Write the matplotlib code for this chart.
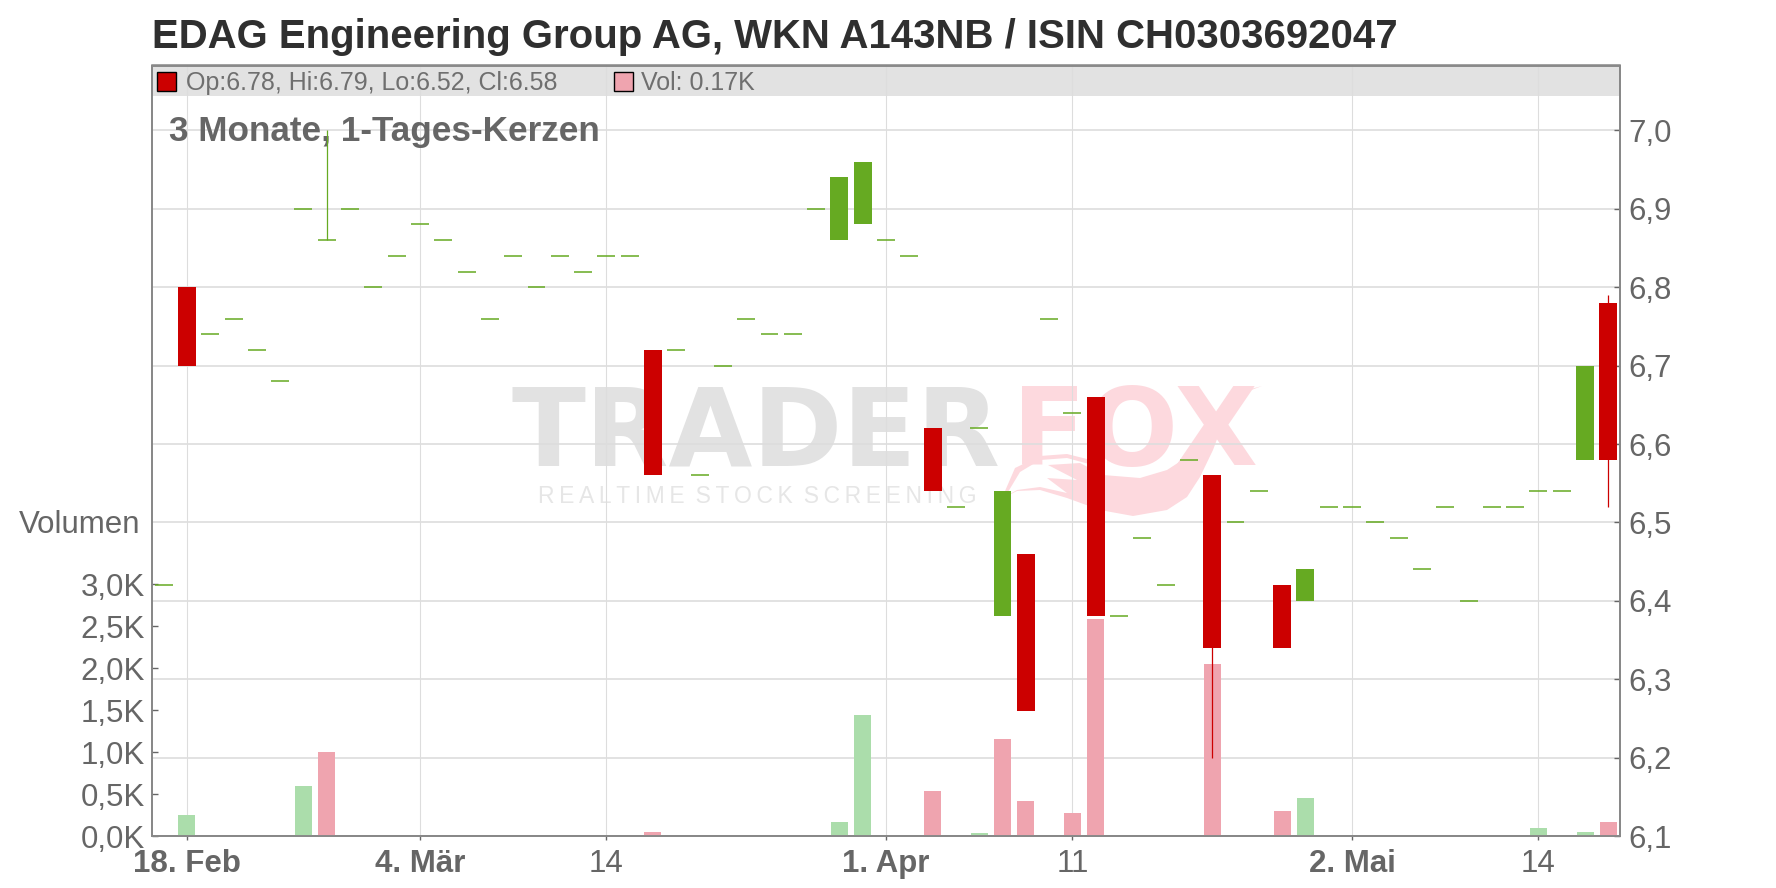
import matplotlib
matplotlib.use('Agg')
import matplotlib.pyplot as plt
from matplotlib.patches import Polygon, Rectangle

plt.rcParams['font.family'] = ['Liberation Sans', 'DejaVu Sans']

# trading days, 0 = 15 Feb
opens = [6.42, 6.80, 6.74, 6.76, 6.72, 6.68, 6.90, 6.86, 6.90, 6.80,
         6.84, 6.88, 6.86, 6.82, 6.76, 6.84, 6.80, 6.84, 6.82, 6.84,
         6.84, 6.72, 6.72, 6.56, 6.70, 6.76, 6.74, 6.74, 6.90, 6.86,
         6.88, 6.86, 6.84, 6.62, 6.52, 6.62, 6.38, 6.46, 6.76, 6.64,
         6.66, 6.38, 6.48, 6.42, 6.58, 6.56, 6.50, 6.54, 6.42, 6.40,
         6.52, 6.52, 6.50, 6.48, 6.44, 6.52, 6.40, 6.52, 6.52, 6.54,
         6.54, 6.58, 6.78]
closes = [6.42, 6.70, 6.74, 6.76, 6.72, 6.68, 6.90, 6.86, 6.90, 6.80,
          6.84, 6.88, 6.86, 6.82, 6.76, 6.84, 6.80, 6.84, 6.82, 6.84,
          6.84, 6.56, 6.72, 6.56, 6.70, 6.76, 6.74, 6.74, 6.90, 6.94,
          6.96, 6.86, 6.84, 6.54, 6.52, 6.62, 6.54, 6.26, 6.76, 6.64,
          6.38, 6.38, 6.48, 6.42, 6.58, 6.34, 6.50, 6.54, 6.34, 6.44,
          6.52, 6.52, 6.50, 6.48, 6.44, 6.52, 6.40, 6.52, 6.52, 6.54,
          6.54, 6.70, 6.58]

wick_days = [7, 45, 62]
wick_highs = [7.00, 6.56, 6.79]
wick_lows = [6.86, 6.20, 6.52]

vol_up_days = [1, 6, 29, 30, 35, 49, 59, 61]
vol_up = [0.25, 0.60, 0.17, 1.44, 0.035, 0.45, 0.095, 0.05]
vol_down_days = [7, 21, 33, 36, 37, 39, 40, 45, 48, 62]
vol_down = [1.00, 0.05, 0.54, 1.155, 0.42, 0.275, 2.58, 2.05, 0.30, 0.17]

date_ticks = [1, 11, 19, 31, 39, 51, 59]
date_labels = ['18. Feb', '4. Mär', '14', '1. Apr', '11', '2. Mai', '14']
bold_labels = ['18. Feb', '4. Mär', '1. Apr', '2. Mai']

price_ticks = [6.1, 6.2, 6.3, 6.4, 6.5, 6.6, 6.7, 6.8, 6.9, 7.0]
price_labels = ['6,1', '6,2', '6,3', '6,4', '6,5', '6,6', '6,7', '6,8', '6,9', '7,0']
vol_ticks = [0, 0.5, 1.0, 1.5, 2.0, 2.5, 3.0]
vol_labels = ['0,0K', '0,5K', '1,0K', '1,5K', '2,0K', '2,5K', '3,0K']

# watermark fox tail, picture pixels
tail = [(1003, 498), (1017, 490), (1040, 487), (1067, 493), (1047, 478), (1077, 480),
        (1048, 465), (1080, 463), (1103, 475), (1140, 478), (1167, 470), (1187, 457),
        (1205, 443), (1220, 417), (1233, 397), (1262, 386), (1247, 390), (1233, 403),
        (1223, 423), (1213, 450), (1200, 477), (1187, 497), (1167, 510), (1133, 516),
        (1100, 510), (1067, 498), (1040, 490), (1017, 491)]
tail_arc = [(1002, 498), (1015, 468), (1040, 456), (1067, 454), (1087, 459), (1100, 467),
            (1067, 458), (1040, 460), (1020, 472), (1008, 492)]

LINE = '#dddddd'
GREY = '#666666'
GREEN = '#66aa22'
RED = '#cc0000'
W, H = 1776, 888


def px(x, y):
    return x / W, 1 - y / H


fig = plt.figure(figsize=(W / 100, H / 100), dpi=100)
ax = fig.add_axes([152 / W, 1 - 836 / H, (1620 - 152) / W, (836 - 65.5) / H])
ax_vol = ax.twinx()
ax_top = ax.twinx()
ax.set_zorder(1)
ax_vol.set_zorder(2)
ax_top.set_zorder(3)
ax_vol.patch.set_visible(False)
ax_top.patch.set_visible(False)

price_lim = (6.1, 6.1 + (836 - 65.5) / 784)
ax.set_xlim(-0.5, 62.5)
ax.set_ylim(price_lim)
ax_top.set_ylim(price_lim)
ax_vol.set_ylim(0, (836 - 65.5) / 84)

# background
ax.axhspan(6.1 + (836 - 96) / 784, price_lim[1], color='#e2e2e2', lw=0, zorder=0.3)
ax.set_axisbelow(True)
ax.set_xticks(date_ticks)
ax.set_xticklabels(date_labels)
ax.set_yticks(price_ticks)
ax.set_yticklabels(price_labels)
ax.yaxis.tick_right()
ax.xaxis.grid(True, color=LINE, lw=0.8)
ax.yaxis.grid(True, color=LINE, lw=1.2)
ax.tick_params(axis='y', direction='in', length=4, width=1, color='#666666',
               labelsize=22.5, labelcolor=GREY, pad=6)
ax.tick_params(axis='x', direction='out', length=3, width=1, color='#666666',
               labelsize=22.5, labelcolor=GREY, pad=6)
for lab in ax.get_xticklabels():
    if lab.get_text() in bold_labels:
        lab.set_fontweight('bold')

# watermark
ax.text(*px(511, 465), 'TRADER', transform=fig.transFigure, family='DejaVu Sans', weight='bold',
        fontsize=78, color='#e2e2e2', zorder=0.2)
ax.text(*px(1012, 465), 'FOX', transform=fig.transFigure, family='DejaVu Sans', weight='bold',
        fontsize=78, color='#fdd9de', zorder=0.2)
ax.text(*px(538, 503), '\u2009'.join('REALTIME') + ' \u2009' + '\u2009'.join('STOCK') + ' \u2009'
        + '\u2009'.join('SCREENING'), transform=fig.transFigure,
        fontsize=16.5, color='#e6e6e6', zorder=0.2)
for shape in (tail, tail_arc):
    ax.add_patch(Polygon([px(x, y) for x, y in shape], closed=True, transform=fig.transFigure,
                         facecolor='#fdd9de', edgecolor='none', zorder=0.2))

# volume
ax_vol.bar(vol_up_days, vol_up, width=0.73, color='#abddab', linewidth=0)
ax_vol.bar(vol_down_days, vol_down, width=0.73, color='#efa4af', linewidth=0)
ax_vol.yaxis.tick_left()
ax_vol.set_yticks(vol_ticks)
ax_vol.set_yticklabels(vol_labels)
ax_vol.tick_params(axis='y', direction='in', length=4, width=1, color='#666666',
                   labelsize=22.5, labelcolor=GREY, pad=5)

# candles
for i, (o, c) in enumerate(zip(opens, closes)):
    col = RED if c < o else GREEN
    if o == c:
        ax_top.hlines(o, i - 0.385, i + 0.385, color=col, lw=1.1)
    else:
        ax_top.bar(i, abs(c - o), bottom=min(o, c), width=0.77, color=col, linewidth=0)
for d, hi, lo in zip(wick_days, wick_highs, wick_lows):
    col = RED if closes[d] < opens[d] else GREEN
    ax_top.vlines(d, lo, hi, color=col, lw=0.9)
ax_top.set_yticks([])

for a in (ax, ax_vol, ax_top):
    for s in a.spines.values():
        s.set_color('#888888')
        s.set_linewidth(1.1)

# texts
fig.text(*px(152, 48), 'EDAG Engineering Group AG, WKN A143NB / ISIN CH0303692047',
         fontsize=28.9, fontweight='bold', color='#2f2f2f')
ax_top.text(*px(169, 141), '3 Monate, 1-Tages-Kerzen', transform=fig.transFigure,
            fontsize=25.3, fontweight='bold', color=GREY, zorder=0.5)
fig.text(*px(19, 533), 'Volumen', fontsize=22.5, color=GREY)
fig.text(*px(186, 90), 'Op:6.78, Hi:6.79, Lo:6.52, Cl:6.58', fontsize=18, color='#6f6f6f')
fig.text(*px(641, 90), 'Vol: 0.17K', fontsize=18, color='#6f6f6f')
for x0, col in ((157, RED), (614, '#efa4af')):
    x, y = px(x0, 91)
    fig.add_artist(Rectangle((x, y), 19 / W, 19 / H, transform=fig.transFigure,
                             facecolor=col, edgecolor='black', lw=1, zorder=5))

fig.savefig('out.png', dpi=100)
